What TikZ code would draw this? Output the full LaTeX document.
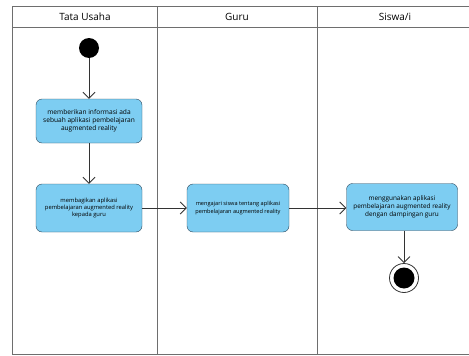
\documentclass[tikz,border=0pt]{standalone}
\usepackage{fontspec}
\setmainfont{Open Sans}
\usetikzlibrary{arrows.meta}
\definecolor{actfill}{RGB}{125,205,242}
\definecolor{actline}{RGB}{45,70,90}
\definecolor{lanegray}{RGB}{110,110,110}

\begin{document}
\begin{tikzpicture}[x=1pt,y=-1pt,
  every node/.style={font=\fontsize{10}{12}\selectfont},
  actbox/.style={draw=actline,fill=actfill,rounded corners=6pt,align=center,inner sep=1pt},
  flow/.style={draw=black!80,thick,-{Straight Barb[length=6pt,width=12pt]}}]
  \useasboundingbox (0,0) rectangle (469,356);
  % swimlanes
  \draw[lanegray,thick] (469,6) -- (12,6) -- (12,354) -- (469,354);
  \draw[lanegray,thick] (12,27) -- (469,27);
  \draw[lanegray,thick] (157,6) -- (157,354);
  \draw[lanegray,thick] (317,6) -- (317,354);
  \node (laneTU) at (85,17) {Tata Usaha};
  \node (laneGuru) at (237,17) {Guru};
  \node (laneSiswa) at (395,17) {Siswa/i};
  % nodes
  \node[circle,fill=black,minimum size=20pt,inner sep=0pt] (start) at (89,48) {};
  \node[actbox,minimum width=106pt,minimum height=44pt,
    font=\fontsize{6.6}{8}\selectfont] (info) at (89,121)
    {memberikan informasi ada\\sebuah aplikasi pembelajaran\\augmented reality};
  \node[actbox,minimum width=106pt,minimum height=48pt,
    font=\fontsize{5.8}{7.4}\selectfont] (bagi) at (89,208)
    {membagikan aplikasi\\pembelajaran augmented reality\\kepada guru};
  \node[actbox,minimum width=102pt,minimum height=48pt,
    font=\fontsize{5.6}{7.4}\selectfont] (ajar) at (238,208)
    {mengajari siswa tentang aplikasi\\pembelajaran augmented reality};
  \node[actbox,minimum width=111pt,minimum height=47pt,
    font=\fontsize{6.4}{8}\selectfont] (guna) at (402,207)
    {menggunakan aplikasi\\pembelajaran augmented reality\\dengan dampingan guru};
  \node[circle,draw=black!80,thick,minimum size=29pt,inner sep=0pt] (stop) at (404,278) {};
  \node[circle,fill=black,minimum size=21pt,inner sep=0pt] (stopdot) at (stop) {};
  % edges
  \draw[flow] (start) -- (info);
  \draw[flow] (info) -- (bagi);
  \draw[flow] (bagi) -- (ajar);
  \draw[flow] (ajar) -- (ajar -| guna.west);
  \draw[flow] (guna.south -| stop) -- (stop);
\end{tikzpicture}
\end{document}
